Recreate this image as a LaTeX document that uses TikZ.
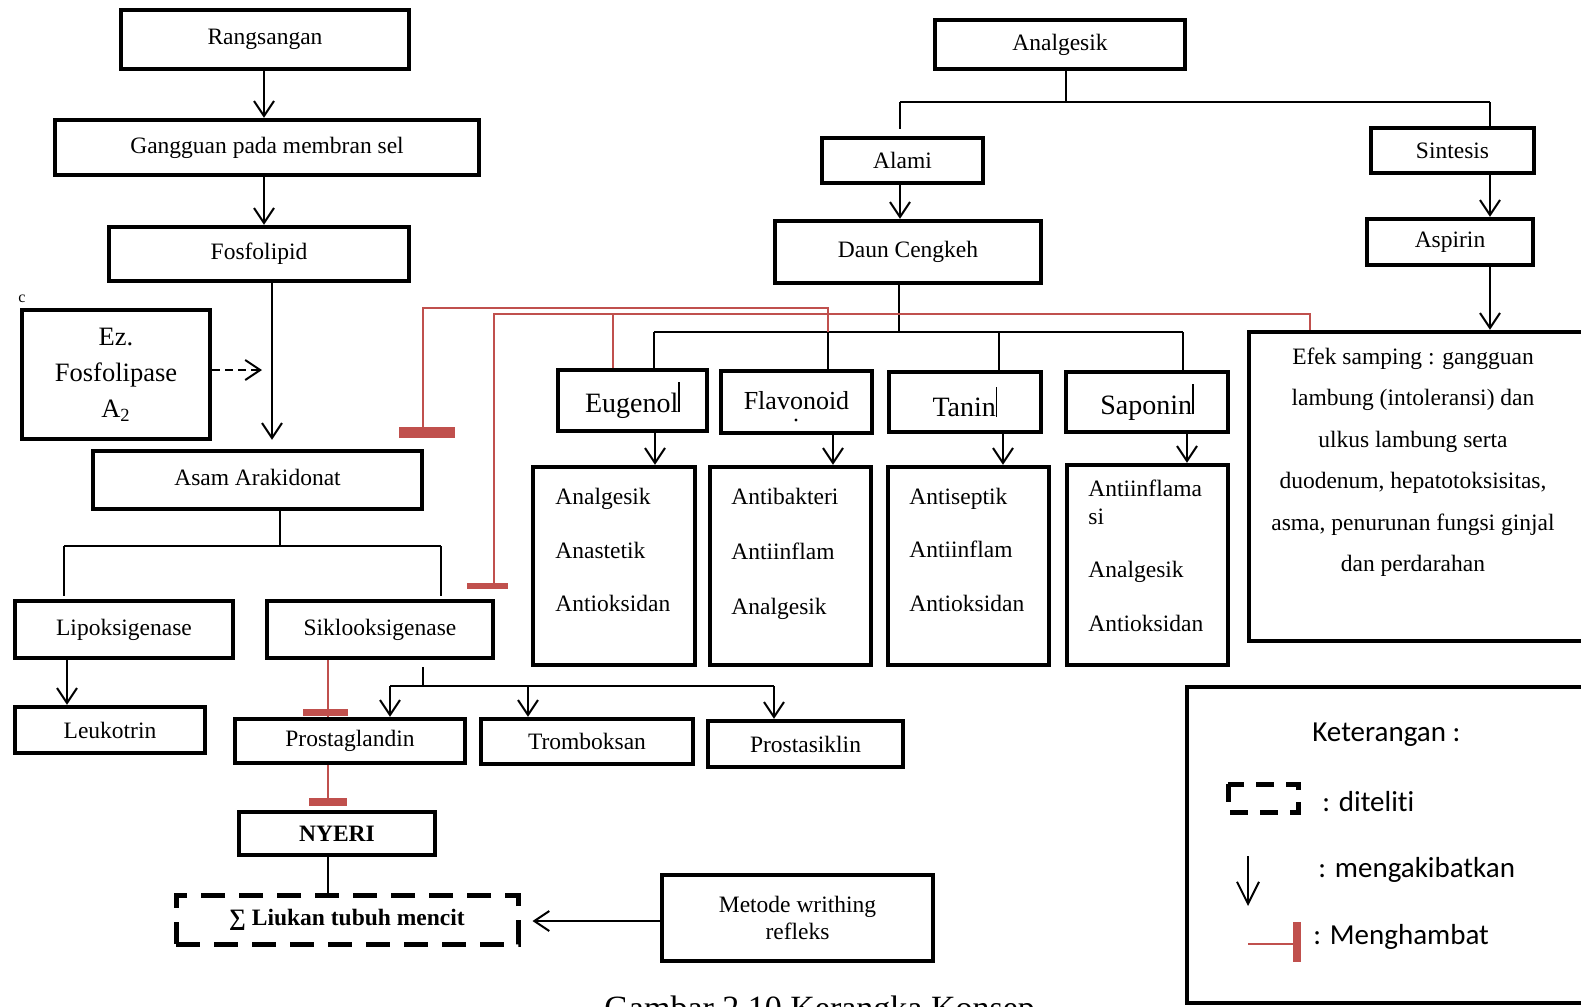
\documentclass[tikz,border=0pt]{standalone}
\usepackage{fontspec}
\setmainfont{Liberation Serif}
\newfontfamily\legfont[Ligatures=NoCommon]{Carlito}
\usetikzlibrary{arrows.meta}
\definecolor{inh}{HTML}{C0504D}
\begin{document}
\begin{tikzpicture}[x=0.5pt,y=-0.5pt,
  box/.style={draw, line width=2.2pt, inner sep=0pt, align=center, font=\fontsize{11.75}{14}\selectfont},
  sz/.style 2 args={minimum width={(#1-4)*0.5pt}, minimum height={(#2-4)*0.5pt}},
  cbox/.style={box, font=\fontsize{14}{17}\selectfont},
  ln/.style={line width=1pt},
  arr/.style={line width=1pt, -{Straight Barb[length=7.5pt,width=10pt,line width=1pt]}},
  rl/.style={draw=inh, line width=0.9pt},
  item/.style={anchor=west, inner sep=0pt, font=\fontsize{11.75}{14}\selectfont, text height=0.68em, text depth=0.22em},
  leg/.style={anchor=west, inner sep=0pt, font=\legfont\fontsize{14.5}{17}\selectfont},
]
\useasboundingbox (0,0) rectangle (1581,1007);
\fill[white] (0,0) rectangle (1581,1007);

% ---------- left column ----------
\node[box, sz={292}{63}] (rang) at (265,39.5) {Rangsangan};
\node[box, sz={428}{59}] (gang) at (267,147.5) {Gangguan pada membran sel};
\node[box, sz={304}{58}] (fosfo) at (259,254) {Fosfolipid};
\node[box, sz={192}{133}, font=\fontsize{13.25}{18}\selectfont] (ez) at (116,374.5) {Ez.\\Fosfolipase\\A\textsubscript{2}};
\node[inner sep=0pt, font=\fontsize{8}{8}\selectfont] (cmark) at (22,299) {c};
\node[box, sz={333}{62}] (asam) at (257.5,480) {\raisebox{3pt}{Asam Arakidonat}};
\node[box, sz={222}{61}] (lipo) at (124,629.5) {Lipoksigenase};
\node[box, sz={230}{61}] (siklo) at (380,629.5) {Siklooksigenase};
\node[box, sz={194}{50}] (leuko) at (110,730) {Leukotrin};
\node[box, sz={234}{48}] (prosg) at (350,741) {\raisebox{-2pt}{Prostaglandin}};
\node[box, sz={216}{49}] (tromb) at (587,741.5) {Tromboksan};
\node[box, sz={199}{50}] (prost) at (805.5,744) {Prostasiklin};
\node[box, sz={200}{47}] (nyeri) at (337,833.5) {\textbf{NYERI}};
\node[box, sz={346}{53}, line width=2.5pt, dash pattern=on 12pt off 7pt] (liukan) at (347,919.5) {\textbf{∑ Liukan tubuh mencit}};
\node[box, sz={275}{90}, font=\fontsize{11.75}{13.5}\selectfont] (metode) at (797.5,918) {Metode writhing\\refleks};

% ---------- right part ----------
\node[box, sz={254}{53}] (analg) at (1060,44.5) {Analgesik};
\node[box, sz={165}{49}] (alami) at (902.5,160.5) {Alami};
\node[box, sz={270}{66}] (daun) at (908,252) {\raisebox{2pt}{Daun Cengkeh}};
\node[box, sz={167}{49}] (sint) at (1452.5,150.5) {Sintesis};
\node[box, sz={170}{50}] (aspi) at (1450,242) {Aspirin};
\node[box, sz={353}{313}] (efek) at (1423.5,486.5) {};
\node[align=center, inner sep=0pt, font=\fontsize{11.75}{20.75}\selectfont] (efektxt) at (1413,462)
  {Efek samping : gangguan\\lambung (intoleransi) dan\\ulkus lambung serta\\duodenum, hepatotoksisitas,\\asma, penurunan fungsi ginjal\\dan perdarahan};

\node[cbox, sz={153}{65}] (eug) at (632.5,400.5) {Eugenol\rule{0.8pt}{15pt}};
\node[cbox, sz={155}{66}, font=\fontsize{13}{16}\selectfont] (flav) at (796.5,402) {\raisebox{2pt}{Flavonoid}};
\node[cbox, sz={156}{64}] (tanin) at (965,402) {Tanin\rule{0.8pt}{15pt}};
\node[cbox, sz={166}{64}] (sapo) at (1147,402) {Saponin\rule{0.8pt}{15pt}};
\fill (796,420) circle (0.8pt);

\node[box, sz={166}{202}] (r1) at (614,566) {};
\node[box, sz={165}{202}] (r2) at (790.5,566) {};
\node[box, sz={165}{202}] (r3) at (968.5,566) {};
\node[box, sz={165}{204}] (r4) at (1147.5,565) {};
\node[item] (r1a) at (555,500) {Analgesik};
\node[item] (r1b) at (555,554) {Anastetik};
\node[item] (r1c) at (555,607) {Antioksidan};
\node[item] (r2a) at (731,500) {Antibakteri};
\node[item] (r2b) at (731,555) {Antiinflam};
\node[item] (r2c) at (731,610) {Analgesik};
\node[item] (r3a) at (909,500) {Antiseptik};
\node[item] (r3b) at (909,553) {Antiinflam};
\node[item] (r3c) at (909,607) {Antioksidan};
\node[item] (r4a) at (1088,492) {Antiinflama};
\node[item] (r4b) at (1088,520) {si};
\node[item] (r4c) at (1088,573) {Analgesik};
\node[item] (r4d) at (1088,627) {Antioksidan};

% ---------- legend ----------
\node[box, sz={415}{320}] (legend) at (1392.5,845) {};
\node[leg] (k0) at (1312,735) {Keterangan :};
\node[leg] (k1) at (1322,802) {: diteliti};
\node[leg] (k2) at (1318,870) {: mengakibatkan};
\node[leg] (k3) at (1313,937) {: Menghambat};
\draw[line width=2.5pt, dash pattern=on 9pt off 6pt] (1228,784) rectangle (1298,812);
\coordinate (la1) at (1248,856);
\coordinate (la2) at (1248,906);
\draw[line width=1pt, -{Straight Barb[length=11pt,width=11pt,line width=1pt]}] (la1) -- (la2);
\coordinate (lh1) at (1248,944);
\coordinate (lh2) at (1294,944);
\draw[rl] (lh1) -- (lh2);
\fill[inh] (1293,922) rectangle (1301,962);

% ---------- caption (cut by page edge as in the reference) ----------
\node[anchor=base west, inner sep=0pt, font=\fontsize{17}{20}\selectfont] (cap) at (604,1019) {Gambar 2.10 Kerangka Konsep};

% ---------- connectors, left ----------
\coordinate (xR) at (264,0);
\draw[arr] (rang.south -| xR) -- (gang.north -| xR);
\draw[arr] (gang.south -| xR) -- (fosfo.north -| xR);
\coordinate (xF) at (272,0);
\draw[arr, shorten >=4.5pt] (fosfo.south -| xF) -- (asam.north -| xF);
\coordinate (dz) at (262,370);
\draw[arr, dash pattern=on 4pt off 2.5pt] (ez.east |- dz) -- (dz);

\coordinate (sA) at (280,546);
\coordinate (sL) at (64,546);
\coordinate (sR) at (441,546);
\draw[ln] (asam.south -| sA) -- (sA);
\draw[ln] (sL) -- (sR);
\draw[ln] (sL) -- ([yshift=1.5pt]lipo.north -| sL);
\draw[ln] (sR) -- ([yshift=1.5pt]siklo.north -| sR);
\coordinate (xL) at (67,0);
\draw[arr] (lipo.south -| xL) -- (leuko.north -| xL);

\coordinate (sS) at (423,686);
\coordinate (s1) at (390,686);
\coordinate (s2) at (528,686);
\coordinate (s3) at (774,686);
\draw[ln] ([yshift=-3.5pt]siklo.south -| sS) -- (sS);
\draw[ln] (s1) -- (s3);
\draw[arr] (s1) -- (prosg.north -| s1);
\draw[arr] (s2) -- (tromb.north -| s2);
\draw[arr] (s3) -- (prost.north -| s3);

\coordinate (rA) at (328,0);
\draw[rl] (siklo.south -| rA) -- (prosg.north -| rA);
\fill[inh] (303,709) rectangle (348,716);
\draw[rl] (prosg.south -| rA) -- ([yshift=2pt]nyeri.north -| rA);
\fill[inh] (309,798) rectangle (347,806);
\draw[ln] (nyeri.south -| rA) -- (liukan.north -| rA);
\coordinate (mY) at (0,921);
\draw[arr] (metode.west |- mY) -- ([xshift=6pt]liukan.east |- mY);

% ---------- connectors, right ----------
\coordinate (aS) at (1066,102);
\coordinate (aL) at (900,102);
\coordinate (aR) at (1490,102);
\draw[ln] (analg.south -| aS) -- (aS);
\draw[ln] (aL) -- (aR);
\draw[ln] (aL) -- ([yshift=3.5pt]alami.north -| aL);
\draw[ln] (aR) -- (sint.north -| aR);
\draw[arr] (alami.south -| aL) -- (daun.north -| aL);
\draw[arr] (sint.south -| aR) -- (aspi.north -| aR);
\draw[arr] (aspi.south -| aR) -- (efek.north -| aR);

\coordinate (dS) at (899,332);
\coordinate (d1) at (654,332);
\coordinate (d2) at (828,332);
\coordinate (d3) at (999,332);
\coordinate (d4) at (1183,332);
\draw[ln] (daun.south -| dS) -- (dS);
\draw[ln] (d1) -- (d4);
\draw[ln] (d1) -- (eug.north -| d1);
\draw[ln] (d2) -- (flav.north -| d2);
\draw[ln] (d3) -- (tanin.north -| d3);
\draw[ln] (d4) -- (sapo.north -| d4);
\coordinate (e1) at (655,0);
\coordinate (e2) at (833,0);
\coordinate (e3) at (1003,0);
\coordinate (e4) at (1187,0);
\draw[arr] (eug.south -| e1) -- (r1.north -| e1);
\draw[arr] (flav.south -| e2) -- (r2.north -| e2);
\draw[arr] (tanin.south -| e3) -- (r3.north -| e3);
\draw[arr] (sapo.south -| e4) -- (r4.north -| e4);

% ---------- inhibition lines ----------
\coordinate (q1) at (828,308);
\coordinate (q2) at (423,308);
\coordinate (q3) at (423,428);
\draw[rl] (d2) -- (q1) -- (q2) -- (q3);
\fill[inh] (399,427) rectangle (455,438);
\coordinate (p0) at (494,314);
\coordinate (p1) at (613,314);
\coordinate (p2) at (1310,314);
\coordinate (p3) at (494,584);
\draw[rl] (eug.north -| p1) -- (p1);
\draw[rl] (p3) -- (p0) -- (p2) -- (efek.north -| p2);
\fill[inh] (467,583) rectangle (508,589);
\end{tikzpicture}
\end{document}
